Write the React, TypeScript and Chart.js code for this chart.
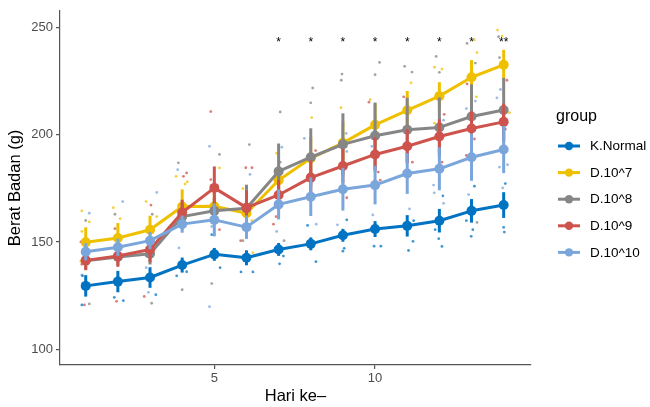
import { useEffect, useRef } from "react";
import { Chart, registerables } from "chart.js";

Chart.register(...registerables);

// ---------- data ----------
const days = [1, 2, 3, 4, 5, 6, 7, 8, 9, 10, 11, 12, 13, 14];
const groupNames = ["K.Normal", "D.10^7", "D.10^8", "D.10^9", "D.10^10"];
const groupColors = ["#0073C2", "#EFC000", "#868686", "#CD534C", "#7AA6DC"];

const kNormalMean = [129.5, 131.5, 133.4, 139.2, 144.2, 142.6, 146.5, 149.1, 153.1, 156, 157.5, 159.9, 164.5, 167.2];
const d7Mean = [149.8, 151.8, 155.7, 166.5, 166.6, 163.4, 178.8, 189, 196.2, 204.6, 211.4, 218, 226.8, 232.6];
const d8Mean = [141.2, 143, 144.5, 161.8, 164.5, 165.7, 182.9, 189.5, 195.5, 199.5, 202.3, 203.4, 208.5, 211.5];
const d9Mean = [141.4, 143.4, 146.5, 163.7, 175.2, 166, 171.9, 180, 185.4, 190.8, 194.6, 199.2, 202.9, 206];
const d10Mean = [145.4, 147.5, 150.6, 158.3, 160.3, 156.9, 167.5, 171.1, 174.6, 176.5, 181.9, 184.1, 189.5, 193.1];

const kNormalErr = [5, 5, 4.8, 3.5, 3, 3.5, 3, 3, 3, 3.7, 5, 5.5, 5.5, 6];
const d7Err = [7, 7, 6.5, 8, 6, 5, 7, 10, 10, 10, 9, 6.5, 8, 7];
const d8Err = [4, 4, 5, 6, 6, 11, 13, 13.5, 14.5, 15.5, 15, 14, 15, 15];
const d9Err = [4.6, 5, 6, 6, 10, 8, 7, 8, 8, 8, 8, 8, 8, 8.5];
const d10Err = [4, 4, 4, 4, 7.7, 5.5, 7, 9, 10, 9, 9.5, 10, 11, 11];

// individual (jittered) observations: [hari, berat]
const kNormalPts = [
  [0.88, 120.6], [0.9, 134.2], [1.89, 124.1], [2.17, 122.6], [3.18, 125.4], [3.83, 134.2], [4.14, 136.1],
  [4.92, 153.4], [5.18, 138], [5.83, 136], [6.2, 136], [7.03, 139.8], [7.15, 143.4], [7.9, 157.7],
  [8.16, 140.8], [9.12, 160.3], [9.0, 145.7], [9.04, 147], [9.97, 148], [10.18, 148], [11.18, 150.3],
  [11.04, 146], [11.2, 159.9], [11.87, 155.7], [11.98, 151.5], [12.08, 147.9], [12.11, 171.5],
  [12.84, 159.9], [13.04, 155.7], [12.99, 152.6], [13.09, 176], [14.0, 156.8], [14.02, 154.6], [14.05, 177.2],
];
const d7Pts = [
  [0.88, 164.5], [1.11, 159.4], [0.88, 154.9], [0.85, 141], [1.86, 166], [2.07, 160.8], [2.88, 168.8],
  [3.21, 161.8], [3.81, 180.6], [4.09, 177], [4.16, 178], [5.16, 184.5], [5.89, 174.9], [6.17, 159.9],
  [6.2, 145], [6.94, 191.4], [8.03, 208], [8.94, 212.6], [9.85, 216.4], [11.12, 224.2], [11.85, 231.5],
  [12.08, 230.6], [11.85, 205.4], [13.09, 244.2], [13.17, 238.3], [13.15, 217.7], [13.81, 248.8],
  [13.95, 246], [14.18, 210.3],
];
const d8Pts = [
  [1.0, 160], [1.11, 121.1], [1.91, 162.9], [3.07, 162.9], [3.05, 121.4], [2.88, 143.4], [3.88, 186.9],
  [4.0, 127.7], [5.16, 190.8], [4.92, 130.6], [6.09, 195.4], [5.89, 150.6], [7.05, 210.6], [7.05, 187.2],
  [7.17, 150.6], [8.06, 221.8], [8.0, 214.9], [8.97, 228.3], [8.95, 225.4], [10.14, 233.7], [10.0, 228],
  [10.92, 231.9], [11.15, 229.2], [11.9, 236.5], [12.0, 229.1], [12.86, 242.6], [13.12, 233.4],
  [13.17, 159.1], [13.84, 245.7], [13.87, 236],
];
const d9Pts = [
  [0.85, 150], [0.96, 120.6], [0.88, 139.6], [1.91, 156.2], [1.96, 122.3], [3.03, 167.2], [2.82, 124.6],
  [4.04, 180.6], [4.14, 182.2], [4.89, 210.8], [4.89, 179.1], [5.16, 155.7], [5.98, 184.6], [6.17, 184.6],
  [5.82, 150.6], [6.92, 161.8], [6.84, 158.3], [8.15, 192.6], [9.12, 170.6], [9.81, 215.2], [10.16, 178.8],
  [10.1, 182.6], [10.89, 217.7], [11.16, 187.2], [12.15, 209.5], [12.08, 187.2], [12.86, 223.7],
  [13.09, 198], [12.84, 190.3], [14.1, 225.4], [14.05, 202.6],
];
const d10Pts = [
  [1.11, 163.4], [0.88, 134.6], [2.15, 168.8], [3.21, 173.1], [2.95, 126.5], [2.88, 138], [3.86, 183.7],
  [3.9, 147.2], [4.85, 194.6], [4.85, 119.8], [4.92, 157.2], [6.11, 181.5], [7.1, 194.2], [6.94, 154.9],
  [7.8, 198.3], [8.17, 158.3], [9.1, 200.6], [9.12, 192.2], [8.83, 158], [9.9, 194.6], [9.93, 162.6],
  [11.07, 165.4], [12.13, 206.8], [11.82, 176.5], [11.84, 172.9], [12.13, 168], [13.12, 215.7],
  [12.84, 212.2], [12.91, 172.1], [13.9, 221.1], [13.79, 217.2], [13.87, 184.9], [14.12, 186], [13.97, 175.2],
];

const groupMeans = [kNormalMean, d7Mean, d8Mean, d9Mean, d10Mean];
const groupErrs = [kNormalErr, d7Err, d8Err, d9Err, d10Err];
const groupPts = [kNormalPts, d7Pts, d8Pts, d9Pts, d10Pts];

const xTicks = [5, 10];
const yTicks = [100, 150, 200, 250];
const sigDays = [7, 8, 9, 10, 11, 12, 13, 14];
const sigLabels = ["*", "*", "*", "*", "*", "*", "*", "**"];
const sigValue = 244.5;

const xTitle = "Hari ke–";
const yTitle = "Berat Badan (g)";
const legendTitle = "group";

const FONT = "'Liberation Sans', Arial, Helvetica, sans-serif";

function hexA(hex: string, a: number) {
  const n = parseInt(hex.slice(1), 16);
  return `rgba(${(n >> 16) & 255},${(n >> 8) & 255},${n & 255},${a})`;
}

const errorBarPlugin = {
  id: "errbars",
  beforeDatasetDraw(chart: any, args: any) {
    const ds = chart.data.datasets[args.index];
    if (!ds.errs) return;
    const { ctx, scales } = chart;
    const x = scales.x;
    const y = scales.y;
    ctx.save();
    ctx.strokeStyle = ds.borderColor;
    ctx.lineWidth = 3;
    ctx.lineCap = "butt";
    ds.data.forEach((p: any, i: number) => {
      const px = x.getPixelForValue(p.x);
      ctx.beginPath();
      ctx.moveTo(px, y.getPixelForValue(p.y - ds.errs[i]));
      ctx.lineTo(px, y.getPixelForValue(p.y + ds.errs[i]));
      ctx.stroke();
    });
    ctx.restore();
  },
};

const decorPlugin = {
  id: "decor",
  afterDraw(chart: any) {
    const { ctx, chartArea, scales } = chart;
    ctx.save();
    // significance stars
    ctx.fillStyle = "#000";
    ctx.font = `12px ${FONT}`;
    ctx.textAlign = "center";
    ctx.textBaseline = "alphabetic";
    sigDays.forEach((d, i) => {
      ctx.fillText(sigLabels[i], scales.x.getPixelForValue(d), scales.y.getPixelForValue(sigValue) + 7);
    });
    // axis titles
    ctx.font = `16.5px ${FONT}`;
    ctx.textBaseline = "middle";
    ctx.fillText(xTitle, (chartArea.left + chartArea.right) / 2, 396);
    ctx.save();
    ctx.translate(15, (chartArea.top + chartArea.bottom) / 2);
    ctx.rotate(-Math.PI / 2);
    ctx.fillText(yTitle, 0, 0);
    ctx.restore();
    // legend
    ctx.textAlign = "left";
    ctx.font = `16px ${FONT}`;
    ctx.fillText(legendTitle, 556, 117);
    ctx.font = `13.5px ${FONT}`;
    groupNames.forEach((name, i) => {
      const yy = 146 + i * 26.6;
      ctx.strokeStyle = groupColors[i];
      ctx.lineWidth = 3;
      ctx.beginPath();
      ctx.moveTo(558, yy);
      ctx.lineTo(580, yy);
      ctx.stroke();
      ctx.fillStyle = groupColors[i];
      ctx.beginPath();
      ctx.arc(569, yy, 4.2, 0, Math.PI * 2);
      ctx.fill();
      ctx.fillStyle = "#000";
      ctx.fillText(name, 590, yy + 0.5);
    });
    ctx.restore();
  },
};

export default function App() {
  const ref = useRef<HTMLCanvasElement | null>(null);

  useEffect(() => {
    document.body.style.margin = "0";
    const canvas = ref.current;
    if (!canvas) return;

    const datasets: any[] = [];
    groupNames.forEach((name, g) => {
      datasets.push({
        type: "scatter",
        label: name + " obs",
        data: groupPts[g].map((p) => ({ x: p[0], y: p[1] })),
        backgroundColor: hexA(groupColors[g], 0.75),
        borderWidth: 0,
        pointRadius: 1.4,
        order: 20 + g,
      });
    });
    groupNames.forEach((name, g) => {
      datasets.push({
        type: "line",
        label: name,
        data: days.map((d, i) => ({ x: d, y: groupMeans[g][i] })),
        errs: groupErrs[g],
        borderColor: groupColors[g],
        backgroundColor: groupColors[g],
        borderWidth: 3,
        borderJoinStyle: "round",
        borderCapStyle: "round",
        pointRadius: 5,
        pointBorderWidth: 0,
        pointBackgroundColor: groupColors[g],
        tension: 0,
        fill: false,
        order: 5 - g,
      });
    });

    const axisColor = "#555555";
    const tickFont = { family: FONT, size: 13 };

    const chart = new Chart(canvas, {
      type: "line",
      data: { datasets },
      options: {
        responsive: false,
        animation: false,
        devicePixelRatio: 1,
        layout: { padding: { top: 7, right: 119, left: 0, bottom: 0 } },
        plugins: { legend: { display: false }, tooltip: { enabled: false } },
        scales: {
          x: {
            type: "linear",
            min: 0.2,
            max: 14.85,
            afterBuildTicks: (s: any) => {
              s.ticks = xTicks.map((v) => ({ value: v }));
            },
            afterFit: (s: any) => {
              s.height = 42;
            },
            ticks: { color: "#4d4d4d", font: tickFont, padding: 2, autoSkip: false, maxRotation: 0 },
            grid: { display: true, drawOnChartArea: false, drawTicks: true, tickLength: 4, color: axisColor, lineWidth: 1.2 },
            border: { display: true, color: axisColor, width: 1.2 },
          },
          y: {
            type: "linear",
            min: 92.6,
            max: 257.8,
            afterBuildTicks: (s: any) => {
              s.ticks = yTicks.map((v) => ({ value: v }));
            },
            afterFit: (s: any) => {
              s.width = 60;
            },
            ticks: { color: "#4d4d4d", font: tickFont, padding: 3, autoSkip: false },
            grid: { display: true, drawOnChartArea: false, drawTicks: true, tickLength: 4, color: axisColor, lineWidth: 1.2 },
            border: { display: true, color: axisColor, width: 1.2 },
          },
        },
      } as any,
      plugins: [errorBarPlugin, decorPlugin],
    });

    return () => chart.destroy();
  }, []);

  return (
    <div style={{ width: 650, height: 407, background: "#fff" }}>
      <canvas ref={ref} width={650} height={407} style={{ display: "block" }} />
    </div>
  );
}
